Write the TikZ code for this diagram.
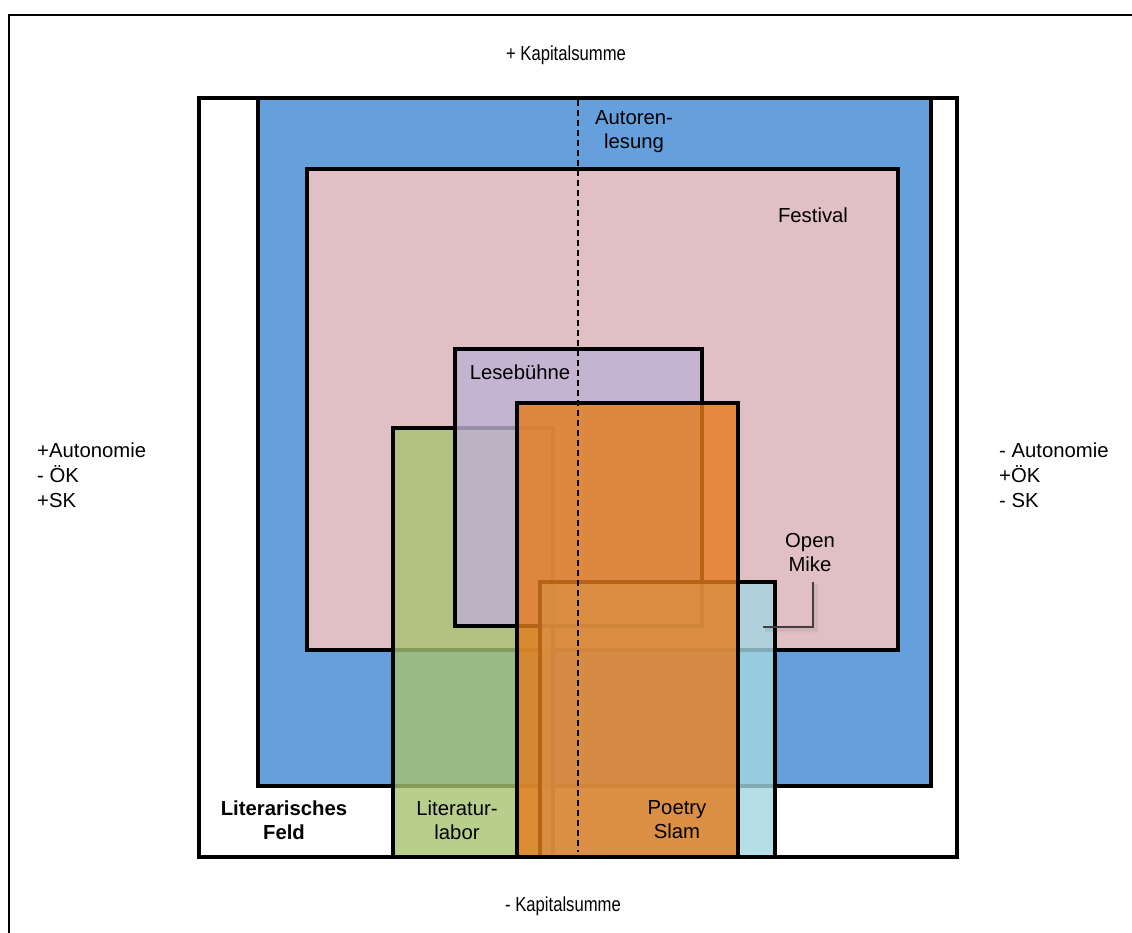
\documentclass[tikz,border=0pt]{standalone}
\usepackage{fontspec}
\setmainfont{Liberation Sans}
\definecolor{feldblue}{RGB}{101,159,220}
\definecolor{festpink}{RGB}{224,192,197}
\definecolor{labgreen}{RGB}{167,194,112}
\definecolor{lesepurple}{RGB}{190,176,212}
\definecolor{mikecyan}{RGB}{164,214,225}
\definecolor{slamorange}{RGB}{229,124,28}
\begin{document}
\begin{tikzpicture}[x=1pt,y=-1pt,
  box/.style={draw=black,line width=3.6pt,line join=miter},
  seethrough/.style={fill opacity=0.8},
  lbl/.style={font=\fontsize{20.3}{24}\selectfont,align=center,inner sep=0pt},
  side/.style={lbl,align=left,anchor=west,font=\fontsize{20.3}{25}\selectfont},
  pole/.style={lbl},
  callout/.style={draw=black!75,line width=1.1pt},
  axis/.style={draw=black,line width=1.4pt,dash pattern=on 6pt off 4pt}]
\useasboundingbox (0,0) rectangle (1132,933);

% outer frame, running off the page to the right and bottom
\begin{scope}
  \clip (0,0) rectangle (1132,933);
  \draw[line width=2.6pt] (9,15) rectangle (1170,970);
\end{scope}

% the literary field and its nested forms
\draw[box,fill=white]               (199,98)  rectangle (957,857);
\draw[box,fill=feldblue]            (258,98)  rectangle (931,786);
\draw[box,fill=festpink]            (307,169) rectangle (898,650);
\draw[box,seethrough,fill=labgreen]   (393,428) rectangle (553,857);
\draw[box,seethrough,fill=lesepurple] (455,349) rectangle (702,626);
\draw[box,seethrough,fill=mikecyan]   (540,582) rectangle (775,857);
\draw[box,seethrough,fill=slamorange] (517,403) rectangle (738,857);

% central axis
\coordinate (axtop) at (578,100);
\coordinate (axbot) at (578,852);
\draw[axis] (axtop) -- (axbot);

% axis labels (capital sum set slightly condensed)
\node[pole] (kplus)  at (566,55)  {\scalebox{0.82}[1]{+ Kapitalsumme}};
\node[pole] (kminus) at (563,906) {\scalebox{0.82}[1]{- Kapitalsumme}};
\node[side] (leftpole)  at (37,475)  {+Autonomie\\- ÖK\\+SK};
\node[side] (rightpole) at (999,475) {- Autonomie\\+ÖK\\- SK};

% form labels
\node[lbl] (autor) at (634,132) {Autoren-\\lesung};
\node[lbl] (fest)  at (813,215) {Festival};
\node[lbl] (lese)  at (520,372) {Lesebühne};
\node[lbl,font=\fontsize{20.3}{24}\selectfont\bfseries] (feld) at (284,820) {Literarisches\\Feld};
\node[lbl] (labor) at (457,820) {Literatur-\\labor};
\node[lbl] (slam)  at (677,820) {Poetry\\Slam};
\node[lbl] (om)    at (810,553) {Open\\Mike};

% callout pointing into the Open Mike box, with a soft shadow
\coordinate (omfoot) at (813,582);
\coordinate (omtip)  at (763,627);
\foreach \w in {8,5,3}
  \draw[draw=black,opacity=0.025,line width=\w pt] ([xshift=2pt,yshift=-2pt]omfoot) |- ([xshift=2pt,yshift=-2pt]omtip);
\draw[callout] (omfoot) |- (omtip);
\end{tikzpicture}
\end{document}
